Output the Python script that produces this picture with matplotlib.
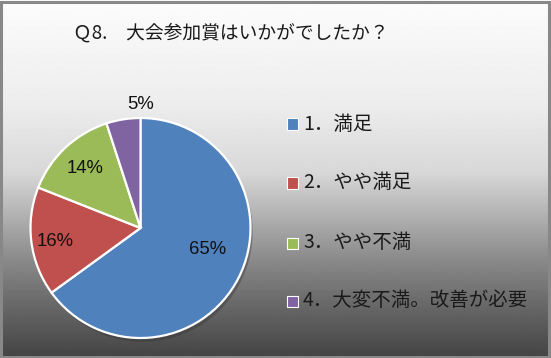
import numpy as np
import matplotlib
matplotlib.use("Agg")
import matplotlib.pyplot as plt
from matplotlib.patches import Rectangle

plt.rcParams["font.family"] = ["Noto Sans CJK JP", "DejaVu Sans"]

TITLE = "Ｑ8.　大会参加賞はいかがでしたか？"
labels = ["1．満足", "2．やや満足", "3．やや不満", "4．大変不満。改善が必要"]
values = [65, 16, 14, 5]
colors = ["#4F81BD", "#C0504D", "#9BBB59", "#8064A2"]

# label placement (radial fraction, angle nudge in degrees) per slice
label_pos = [(0.645, 9), (0.79, 2), (0.74, 0), (1.127, -9)]

W, H = 551, 358
fig = plt.figure(figsize=(W / 100, H / 100), dpi=100)

# background gradient
bg = fig.add_axes([0, 0, 1, 1], zorder=-10)
stops_y = [0.0, 0.3, 0.48, 0.6, 0.72, 0.85, 1.0]
stops_v = [252, 236, 216, 178, 140, 105, 68]
yy = np.linspace(0, 1, 400)
grad = np.interp(yy, stops_y, stops_v) / 255.0
bg.imshow(grad[:, None], aspect="auto", cmap="gray", vmin=0, vmax=1,
          extent=[0, 1, 1, 0])
bg.set_xlim(0, 1)
bg.set_ylim(1, 0)
bg.axis("off")

# frame
fig.patches.append(Rectangle((1 / W, 1.5 / H), 1 - 3.5 / W, 1 - 3 / H,
                             transform=fig.transFigure, fill=False,
                             edgecolor="#888888", linewidth=2.2))

fig.text(73 / W, 1 - 33 / H, TITLE, fontsize=13.5, ha="left", va="center",
         color="#1a1a1a")

cx, cy, r = 140.5, 228, 110
ax = fig.add_axes([(cx - r) / W, (H - cy - r) / H, 2 * r / W, 2 * r / H])

# shadow
ax.pie(values, colors=["#303030"] * 4, startangle=90, counterclock=False,
       radius=1.0, center=(0.02, -0.035),
       wedgeprops=dict(linewidth=0, alpha=0.35))
wedges, _ = ax.pie(values, colors=colors, startangle=90, counterclock=False,
                   wedgeprops=dict(edgecolor="white", linewidth=1.6))
ax.set_xlim(-1, 1)
ax.set_ylim(-1, 1)
ax.set_aspect("equal")

for w, v, (frac, nudge) in zip(wedges, values, label_pos):
    ang = np.deg2rad((w.theta1 + w.theta2) / 2 + nudge)
    ax.text(frac * np.cos(ang), frac * np.sin(ang), f"{v}%",
            ha="center", va="center", fontsize=13.3, color="#111111",
            family=["Liberation Sans", "DejaVu Sans"])

# legend
leg_y = [124, 183, 243, 301]
for lab, col, y in zip(labels, colors, leg_y):
    fig.patches.append(Rectangle((287 / W, 1 - (y + 5.5) / H), 11 / W, 11 / H,
                                 transform=fig.transFigure, facecolor=col,
                                 edgecolor="white", linewidth=0.8))
    fig.text(303 / W, 1 - y / H, lab, fontsize=14, ha="left", va="center",
             color="#1a1a1a")

fig.savefig("out.png", dpi=100)
